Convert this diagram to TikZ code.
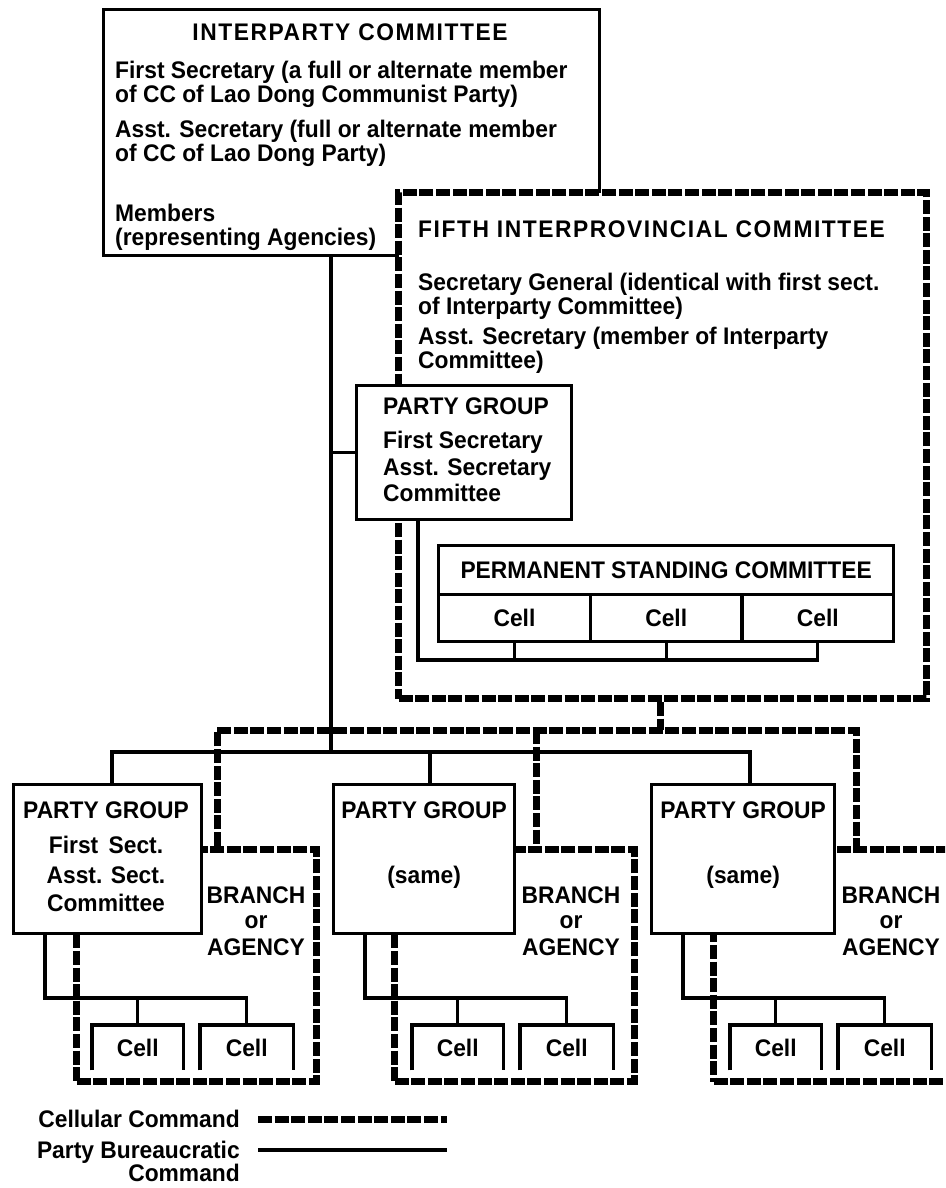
\documentclass[tikz,border=0pt]{standalone}
\usepackage{fontspec}
\setmainfont{Liberation Sans}[FakeStretch=0.95]
\newcommand\spaced[1]{{\addfontfeature{LetterSpace=6.5}#1}}
\begin{document}
\begin{tikzpicture}[x=1pt,y=-1pt,
  wire/.style={line width=3.3pt},
  rope/.style={line width=7pt, dash pattern=on 14pt off 2.6pt},
  bx/.style={draw, line width=3.3pt, fill=white, inner sep=0pt, anchor=north west},
  ropebx/.style={draw, rope, fill=white, inner sep=0pt, anchor=north west},
  txt/.style={inner sep=0pt, font=\fontsize{24}{26}\selectfont\bfseries},
  lbl/.style={txt, anchor=base west},
  ctr/.style={txt, anchor=base},
  rgt/.style={txt, anchor=base east}]
\useasboundingbox (0,0) rectangle (945,1188);
\clip (0,0) rectangle (945,1188);

% ---- Interparty committee
\node[bx, minimum width=496, minimum height=246] (inter) at (102,8) {};
\node[ctr] (ipT) at (350,41) {\spaced{INTERPARTY COMMITTEE}};
\node[lbl] (ip1) at (115,79)  {First Secretary (a full or alternate member};
\node[lbl] (ip2) at (115,103) {of CC of Lao Dong Communist Party)};
\node[lbl] (ip3) at (115,137) {Asst. Secretary (full or alternate member};
\node[lbl] (ip4) at (115,161) {of CC of Lao Dong Party)};
\node[lbl] (ip5) at (115,221) {Members};
\node[lbl] (ip6) at (115,245) {(representing Agencies)};

% ---- Fifth interprovincial committee
\node[ropebx, minimum width=528, minimum height=506] (fifth) at (395,189) {};
\node[lbl] (f0) at (418,237) {\spaced{FIFTH INTERPROVINCIAL COMMITTEE}};
\node[lbl] (f1) at (418,290) {Secretary General (identical with first sect.};
\node[lbl] (f2) at (418,314) {of Interparty Committee)};
\node[lbl] (f3) at (418,344) {Asst. Secretary (member of Interparty};
\node[lbl] (f4) at (418,368) {Committee)};

% ---- Party group of the committee
\node[bx, minimum width=215, minimum height=134] (pgm) at (355,384) {};
\node[lbl] (pgm0) at (383,414) {PARTY GROUP};
\node[lbl] (pgm1) at (383,448) {First Secretary};
\node[lbl] (pgm2) at (383,475) {Asst. Secretary};
\node[lbl] (pgm3) at (383,501) {Committee};

% ---- Permanent standing committee and its cells
\node[bx, txt, minimum width=455, minimum height=49] (psc) at (437,544) {PERMANENT STANDING COMMITTEE};
\node[bx, txt, minimum width=151.7, minimum height=47] (pc1) at (437,593) {Cell};
\node[bx, txt, minimum width=151.7, minimum height=47] (pc2) at (588.7,593) {Cell};
\node[bx, txt, minimum width=151.7, minimum height=47] (pc3) at (740.3,593) {Cell};
\coordinate (kL) at (418,660);
\draw[wire] (kL |- pgm.south) -- (kL) -| (pc3.south);
\draw[wire] (pc1.south) -- (pc1.south |- kL);
\draw[wire] (pc2.south) -- (pc2.south |- kL);

% ---- Branches or agencies
\foreach \u/\o/\w in {1/0/240, 2/318/240, 3/637/243}
  \node[ropebx, minimum width=\w, minimum height=232] (br\u) at ({73+\o},846) {};

% cellular command lines
\coordinate (dA) at (217,730);
\coordinate (dB) at (536,730);
\coordinate (dC) at (856,730);
\coordinate (dJ) at (660,730);
\draw[rope] (dJ |- fifth.south) -- (dJ);
\draw[rope] (dA |- br1.north) -- (dA) -- (dC) -- (dC |- br3.north);
\draw[rope] (dB) -- (dB |- br2.north);

% ---- Party groups of the branches
\node[bx, minimum width=188, minimum height=149] (pg1) at (12,783) {};
\node[bx, minimum width=181, minimum height=149] (pg2) at (332,783) {};
\node[bx, minimum width=183, minimum height=149] (pg3) at (650,783) {};

% party bureaucratic command lines
\coordinate (sA) at (112,752);
\coordinate (sB) at (430,752);
\coordinate (sC) at (750,752);
\coordinate (sJ) at (331,752);
\draw[wire] (sJ |- inter.south) -- (sJ);
\draw[wire] (sJ |- pgm.west) -- (pgm.west);
\draw[wire] (sA |- pg1.north) -- (sA) -- (sC) -- (sC |- pg3.north);
\draw[wire] (sB) -- (sB |- pg2.north);

\node[ctr] (pg1a) at (106,818) {PARTY GROUP};
\node[ctr] (pg1b) at (106,853) {First\, Sect.};
\node[ctr] (pg1c) at (106,883) {Asst. Sect.};
\node[ctr] (pg1d) at (106,911) {Committee};
\node[ctr] (pg2a) at (pg2.center |- 0,818) {PARTY GROUP};
\node[ctr] (pg2b) at (pg2.center |- 0,883) {(same)};
\node[ctr] (pg3a) at (pg3.center |- 0,818) {PARTY GROUP};
\node[ctr] (pg3b) at (pg3.center |- 0,883) {(same)};

\foreach \u/\o/\t in {1/0/0, 2/320/315, 3/638/635} {
  \node[ctr] (bra\u) at ({256+\t},903) {BRANCH};
  \node[ctr] (brb\u) at ({256+\t},928) {or};
  \node[ctr] (brc\u) at ({256+\t},955) {AGENCY};
  \node[txt, minimum width=91, minimum height=45, anchor=north west] (ca\u) at ({92+\o},1025) {Cell};
  \node[txt, minimum width=93, minimum height=45, anchor=north west] (cb\u) at ({200+\o},1025) {Cell};
  \draw[wire] (ca\u.south west) -- (ca\u.north west) -- (ca\u.north east) -- (ca\u.south east);
  \draw[wire] (cb\u.south west) -- (cb\u.north west) -- (cb\u.north east) -- (cb\u.south east);
  \coordinate (k\u) at ({45+\o},998);
  \draw[wire] (k\u |- pg\u.south) -- (k\u) -| (cb\u.north);
  \draw[wire] (ca\u.north) -- (ca\u.north |- k\u);
}

% ---- Legend
\node[rgt] (lg1) at (240,1127) {Cellular Command};
\node[rgt] (lg2) at (240,1158) {Party Bureaucratic};
\node[rgt] (lg3) at (240,1181) {Command};
\coordinate (l1a) at (258,1119);
\coordinate (l1b) at (447,1119);
\coordinate (l2a) at (258,1150);
\coordinate (l2b) at (447,1150);
\draw[rope] (l1a) -- (l1b);
\draw[wire] (l2a) -- (l2b);
\end{tikzpicture}
\end{document}
